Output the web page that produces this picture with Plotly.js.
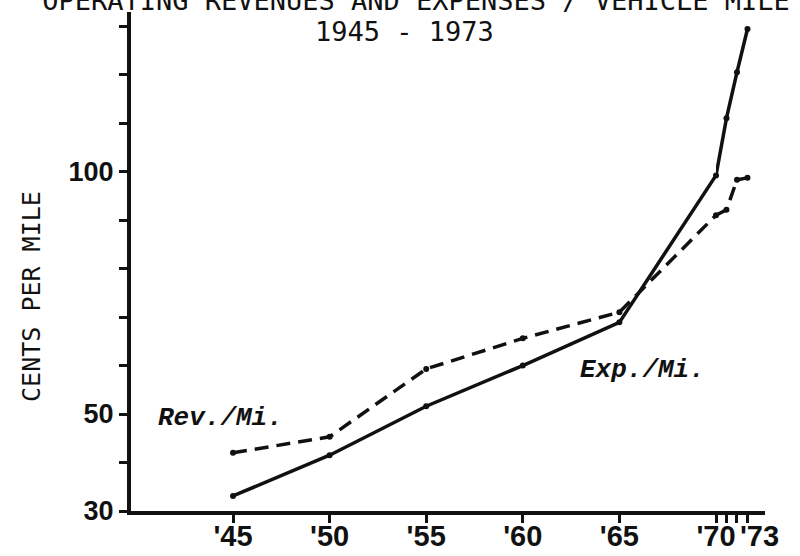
<!DOCTYPE html>
<html>
<head>
<meta charset="utf-8">
<script src="https://cdn.plot.ly/plotly-3.0.1.min.js"></script>
<style>html,body{margin:0;padding:0;background:#fff;}#chart{width:800px;height:556px;}</style>
</head>
<body>
<div id="chart"></div>
<script>
// Data (cents per vehicle mile)
const years = [1945, 1950, 1955, 1960, 1965, 1970, 1971, 1972, 1973];
const expensesPerMile = [33.1, 41.5, 51.6, 60.0, 68.9, 99.2, 111.0, 120.5, 129.4];
const revenuesPerMile = [42.0, 45.3, 59.3, 65.6, 71.0, 91.0, 92.1, 98.3, 98.7];

const yTickVals = [30, 40, 50, 60, 70, 80, 90, 100, 110, 120, 130];
const yTickText = ['30', '', '50', '', '', '', '', '100', '', '', ''];
const xTickVals1 = [1945, 1950, 1955, 1960, 1965, 1970];
const xTickText1 = ["'45", "'50", "'55", "'60", "'65", "'70"];
const xTickVals2 = [1971, 1972, 1973];
const xTickText2 = ['', '', "'73"];

// split: 1945-1970 on the main axis, 1970-1973 on the compressed end axis
const splitIdx = years.indexOf(1970);
const part = (arr, a, b) => arr.slice(a, b);

const lineStyleExp = {color: '#111', width: 3.5};
const lineStyleRev = {color: '#111', width: 3.5, dash: '14px,8px'};
const mk = {color: '#111', size: 6};

const traces = [
  {x: part(years, 0, splitIdx + 1), y: part(expensesPerMile, 0, splitIdx + 1), mode: 'lines+markers', line: lineStyleExp, marker: mk, xaxis: 'x', yaxis: 'y', name: 'Exp./Mi.'},
  {x: part(years, splitIdx), y: part(expensesPerMile, splitIdx), mode: 'lines+markers', line: lineStyleExp, marker: mk, xaxis: 'x2', yaxis: 'y', name: 'Exp./Mi.'},
  {x: part(years, 0, splitIdx + 1), y: part(revenuesPerMile, 0, splitIdx + 1), mode: 'lines+markers', line: lineStyleRev, marker: mk, xaxis: 'x', yaxis: 'y', name: 'Rev./Mi.'},
  {x: part(years, splitIdx), y: part(revenuesPerMile, splitIdx), mode: 'lines+markers', line: lineStyleRev, marker: mk, xaxis: 'x2', yaxis: 'y', name: 'Rev./Mi.'}
];

const tickFont = {family: 'Liberation Sans, Arial, sans-serif', size: 29, color: '#111', weight: 'bold'};
const yTickFont = {family: 'Liberation Sans, Arial, sans-serif', size: 27, color: '#111', weight: 'bold'};
const monoFont = {family: 'DejaVu Sans Mono, monospace', size: 27, color: '#111'};
const labelFont = {family: 'Liberation Mono, Courier New, monospace', size: 26, color: '#111', weight: 'bold', style: 'italic'};

const plotW = 800 - 131 - 35;
const split = (716 - 131) / plotW;

const layout = {
  width: 800, height: 556,
  paper_bgcolor: '#fff', plot_bgcolor: '#fff',
  showlegend: false,
  margin: {l: 131, r: 35, t: 12, b: 45},
  title: {text: 'OPERATING REVENUES AND EXPENSES / VEHICLE MILE', font: monoFont, x: 0.52, xanchor: 'center', xref: 'container', yref: 'container', y: 0.999, yanchor: 'middle'},
  xaxis: {
    domain: [0, split], range: [1939.72, 1970], anchor: 'y',
    tickmode: 'array', tickvals: xTickVals1, ticktext: xTickText1,
    showline: true, linewidth: 4, linecolor: '#111', ticks: 'outside', ticklen: 8, tickwidth: 3, tickcolor: '#111',
    showgrid: false, zeroline: false, tickfont: tickFont, tickangle: 0, ticklabelstandoff: -12
  },
  xaxis2: {
    domain: [split, 1], range: [1970, 1974.67], anchor: 'y',
    tickmode: 'array', tickvals: xTickVals2, ticktext: xTickText2,
    showline: true, linewidth: 4, linecolor: '#111', ticks: 'outside', ticklen: 8, tickwidth: 3, tickcolor: '#111',
    showgrid: false, zeroline: false, tickfont: tickFont, tickangle: 0, ticklabelshift: 12, ticklabelstandoff: -12
  },
  yaxis: {
    range: [30, 132.9], anchor: 'x',
    tickmode: 'array', tickvals: yTickVals, ticktext: yTickText,
    showline: true, linewidth: 4, linecolor: '#111', ticks: 'outside', ticklen: 8, tickwidth: 3, tickcolor: '#111',
    showgrid: false, zeroline: false, tickfont: yTickFont
  },
  annotations: [
    {text: '1945 - 1973', xref: 'paper', yref: 'paper', x: (404 - 131) / plotW, y: 0.961, xanchor: 'center', yanchor: 'middle', showarrow: false, font: monoFont},
    {text: 'CENTS PER MILE', xref: 'paper', yref: 'paper', x: (32 - 131) / plotW, y: 0.429, xanchor: 'center', yanchor: 'middle', textangle: -90, showarrow: false, font: {family: 'DejaVu Sans Mono, monospace', size: 25, color: '#111'}},
    {text: 'Rev./Mi.', xref: 'x', yref: 'y', x: 1944.33, y: 49.2, xanchor: 'center', yanchor: 'middle', showarrow: false, font: labelFont},
    {text: 'Exp./Mi.', xref: 'x', yref: 'y', x: 1966.2, y: 59.1, xanchor: 'center', yanchor: 'middle', showarrow: false, font: labelFont}
  ]
};

Plotly.newPlot('chart', traces, layout, {staticPlot: true, displayModeBar: false});
</script>
</body>
</html>
